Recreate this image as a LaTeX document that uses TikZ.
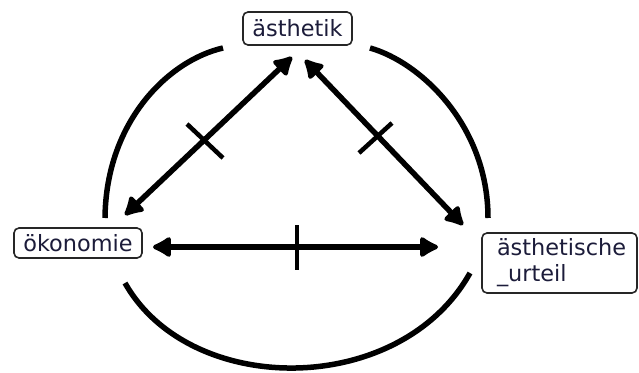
\documentclass[tikz,border=0pt]{standalone}
\usepackage{fontspec}
\setmainfont{DejaVu Sans}
\usetikzlibrary{arrows.meta,calc}
\definecolor{txt}{RGB}{28,28,58}
\definecolor{ink}{RGB}{0,0,0}
\tikzset{
  labelbox/.style={draw=ink!85, line width=1.6pt, rounded corners=5pt, inner sep=0pt,
    text=txt, font=\fontsize{22.4}{26}\selectfont},
  arc/.style={draw=ink, line width=5.5pt},
  headtip/.tip={Latex[length=22pt,width=25pt,round]},
  link/.style={draw=ink, line width=5.5pt, headtip-headtip},
  tick/.style={draw=ink, line width=4.5pt}
}
\begin{document}
\begin{tikzpicture}[x=1pt,y=-1pt]
\useasboundingbox (0,0) rectangle (639,372);
\fill[white] (0,0) rectangle (639,372);
% nodes
\node[labelbox, minimum width=109pt, minimum height=33pt] (ast) at (297.5,28.5) {ästhetik};
\node[labelbox, minimum width=128pt, minimum height=30pt] (oko) at (78,243) {ökonomie};
\node[labelbox, minimum width=155pt, minimum height=60pt, text width=125pt, align=left] (urt) at (559.5,263) {ästhetische\\\_urteil};
% arrow end coordinates
\coordinate (a1) at (292,57);
\coordinate (o1) at (125,215);
\coordinate (a2) at (305,60);
\coordinate (u1) at (463,225);
\coordinate (o2) at (153,247);
\coordinate (u2) at (438,247);
% surrounding arcs
\draw[arc] (223,48) .. controls (170,60) and (106,120) .. (105,218);
\draw[arc] (370,48) .. controls (420,62) and (488,125) .. (488,218);
\draw[arc] (125,283) .. controls (190,398) and (400,398) .. (470,273);
% links
\draw[link] (o1) -- (a1);
\draw[link] (a2) -- (u1);
\draw[link] (o2) -- (u2);
% ticks
\draw[tick] (187,124) -- (223,158);
\draw[tick] (359,153) -- (392,123);
\draw[tick] (297,225) -- (297,270);
\end{tikzpicture}
\end{document}
